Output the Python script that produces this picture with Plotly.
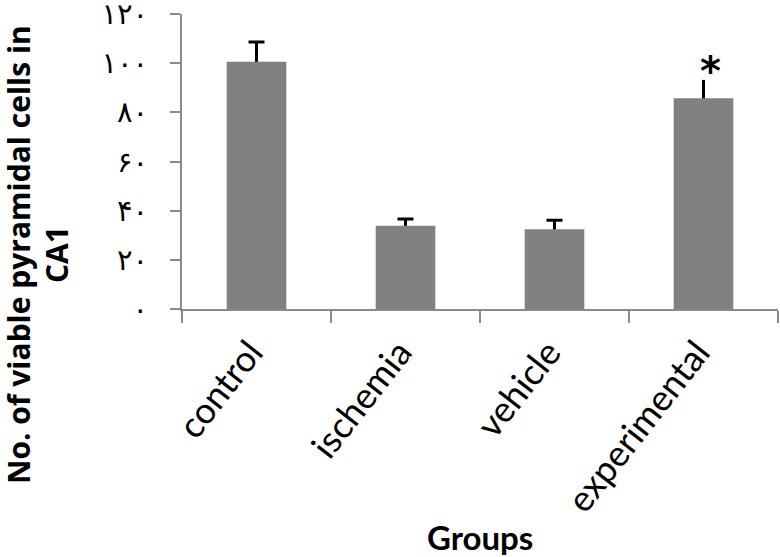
import plotly.graph_objects as go

categories = ["control", "ischemia", "vehicle", "experimental"]
means = [100.6, 33.9, 32.4, 85.7]
errors = [8.0, 2.7, 3.7, 7.5]
y_tickvals = [0, 20, 40, 60, 80, 100, 120]
y_ticktext = ["۰", "۲۰", "۴۰", "۶۰", "۸۰", "۱۰۰", "۱۲۰"]
y_title_lines = ["No. of viable pyramidal cells in", "CA1"]
x_title = "Groups"
sig_marker = "*"

axis_col = "#8a8a8a"
bar_col = "#808080"
clear = "rgba(0,0,0,0)"

fig = go.Figure()
# transparent bars carrying the error bars (drawn first, so visible bars hide the lower half)
fig.add_trace(go.Bar(
    x=categories[:3], y=means[:3],
    marker=dict(color=clear, line=dict(width=0)),
    error_y=dict(type="data", array=errors[:3], color="black", thickness=3, width=8),
    showlegend=False, hoverinfo="skip",
))
fig.add_trace(go.Bar(
    x=categories[3:], y=means[3:],
    marker=dict(color=clear, line=dict(width=0)),
    error_y=dict(type="data", array=errors[3:], color="black", thickness=3, width=0),
    showlegend=False, hoverinfo="skip",
))
# visible bars
fig.add_trace(go.Bar(
    x=categories, y=means,
    marker=dict(color=bar_col, line=dict(width=0)),
    showlegend=False,
))

fig.update_layout(
    width=780, height=557,
    margin=dict(l=182, r=2, t=14, b=248),
    paper_bgcolor="white", plot_bgcolor="white",
    barmode="overlay", bargap=0.6,
    font=dict(family="Lato, Open Sans, sans-serif", color="black"),
)
fig.update_xaxes(
    categoryorder="array", categoryarray=categories,
    showline=True, linecolor=axis_col, linewidth=2,
    ticks="outside", tickson="boundaries", ticklen=12, tickwidth=2, tickcolor=axis_col,
    tickangle=-52, tickfont=dict(size=36, family="Lato, Open Sans, sans-serif"),
    ticklabelstandoff=6, ticklabelshift=-6,
    showgrid=False, zeroline=False, automargin=False,
)
fig.update_yaxes(
    range=[0, 120], tickvals=y_tickvals, ticktext=y_ticktext,
    showline=True, linecolor=axis_col, linewidth=2,
    ticks="outside", ticklen=10, tickwidth=2, tickcolor=axis_col,
    tickfont=dict(size=29, family="DejaVu Sans, sans-serif"),
    ticklabelstandoff=16, ticklabeloverflow="allow",
    showgrid=False, zeroline=False, automargin=False,
)

# y-axis title (two lines, rotated)
for text, px in zip(y_title_lines, [18, 56]):
    fig.add_annotation(
        x=(px - 182) / 596, y=(309 - 255) / 295, xref="paper", yref="paper",
        text="<b>" + text + "</b>", textangle=-90, showarrow=False,
        font=dict(size=30, family="Open Sans, sans-serif"),
        xanchor="center", yanchor="middle",
    )
fig.add_annotation(
    x=0.5, y=(309 - 537) / 295, xref="paper", yref="paper",
    text="<b>" + x_title + "</b>", showarrow=False,
    font=dict(size=33, family="Lato, Open Sans, sans-serif"),
    xanchor="center", yanchor="middle",
)
fig.add_annotation(
    x=categories[3], y=means[3] + errors[3], xref="x", yref="y",
    text="<b>" + sig_marker + "</b>", showarrow=False,
    font=dict(size=40, family="DejaVu Sans, sans-serif"),
    xanchor="center", yanchor="bottom", xshift=7, yshift=-16,
)

fig.write_html("out.html", config={"displayModeBar": False},
               post_script="document.body.style.margin='0';")
